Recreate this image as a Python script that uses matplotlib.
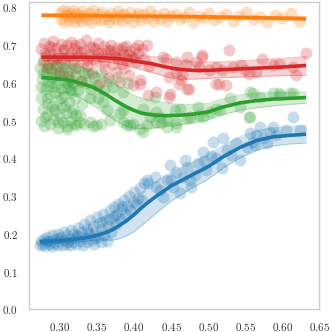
import matplotlib
matplotlib.use('Agg')
import matplotlib.pyplot as plt

# colours of the four series
BLUE, ORANGE, GREEN, RED = '#1f77b4', '#ff7f0e', '#2ca02c', '#d62728'

# ---- blue series ----
blue_pts = [
    (0.273, 0.170), (0.274, 0.180), (0.276, 0.174), (0.278, 0.186), (0.280, 0.168),
    (0.281, 0.178), (0.283, 0.192), (0.285, 0.172), (0.287, 0.182), (0.289, 0.169),
    (0.290, 0.196), (0.292, 0.176), (0.294, 0.186), (0.296, 0.170), (0.297, 0.201),
    (0.299, 0.180), (0.301, 0.192), (0.303, 0.171), (0.305, 0.184), (0.306, 0.206),
    (0.308, 0.174), (0.310, 0.196), (0.312, 0.186), (0.313, 0.170), (0.315, 0.210),
    (0.317, 0.179), (0.318, 0.200), (0.320, 0.189), (0.322, 0.172), (0.324, 0.216),
    (0.325, 0.194), (0.327, 0.181), (0.329, 0.205), (0.331, 0.170), (0.332, 0.226),
    (0.334, 0.190), (0.336, 0.212), (0.337, 0.178), (0.339, 0.200), (0.341, 0.236),
    (0.343, 0.184), (0.344, 0.220), (0.346, 0.172), (0.348, 0.208), (0.350, 0.245),
    (0.351, 0.192), (0.353, 0.228), (0.355, 0.178), (0.356, 0.214), (0.358, 0.252),
    (0.360, 0.198), (0.362, 0.236), (0.364, 0.182), (0.365, 0.220), (0.367, 0.262),
    (0.369, 0.206), (0.371, 0.244), (0.373, 0.270), (0.375, 0.226), (0.377, 0.254),
    (0.379, 0.280), (0.381, 0.240), (0.383, 0.265), (0.386, 0.290), (0.388, 0.252),
    (0.390, 0.275), (0.393, 0.300), (0.395, 0.262), (0.398, 0.285), (0.400, 0.310),
    (0.403, 0.278), (0.405, 0.296), (0.408, 0.322), (0.411, 0.290), (0.414, 0.335),
    (0.417, 0.343), (0.428, 0.352), (0.430, 0.325), (0.439, 0.299), (0.448, 0.383),
    (0.450, 0.343), (0.457, 0.365), (0.462, 0.308), (0.469, 0.396), (0.471, 0.378),
    (0.475, 0.343), (0.482, 0.356), (0.486, 0.387), (0.493, 0.418), (0.495, 0.392),
    (0.497, 0.369), (0.506, 0.444), (0.511, 0.400), (0.518, 0.374), (0.520, 0.453),
    (0.525, 0.422), (0.531, 0.409), (0.538, 0.440), (0.543, 0.396), (0.556, 0.466),
    (0.560, 0.444), (0.565, 0.462), (0.570, 0.484), (0.574, 0.453), (0.579, 0.440),
    (0.583, 0.471), (0.588, 0.484), (0.592, 0.462), (0.605, 0.475), (0.614, 0.510),
    (0.6235, 0.475), (0.419, 0.334), (0.435, 0.317), (0.444, 0.343), (0.453, 0.325),
    (0.466, 0.352), (0.504, 0.405), (0.477, 0.325), (0.552, 0.431), (0.563, 0.435),
    (0.284, 0.181), (0.298, 0.188), (0.311, 0.178), (0.323, 0.198), (0.338, 0.206),
    (0.347, 0.190), (0.357, 0.232), (0.366, 0.240), (0.374, 0.250), (0.384, 0.275),
]
blue_fit_x = [0.273, 0.29, 0.31, 0.33, 0.35, 0.36, 0.37, 0.38, 0.39, 0.40, 0.41,
              0.42, 0.43, 0.45, 0.475, 0.50, 0.52, 0.543, 0.565, 0.587, 0.61, 0.632]
blue_fit = [0.179, 0.181, 0.184, 0.188, 0.196, 0.202, 0.210, 0.222, 0.235, 0.251, 0.269,
            0.285, 0.300, 0.327, 0.353, 0.378, 0.404, 0.429, 0.447, 0.457, 0.461, 0.464]
blue_lo = [0.172, 0.174, 0.177, 0.180, 0.184, 0.184, 0.183, 0.187, 0.195, 0.206, 0.222,
           0.238, 0.255, 0.287, 0.318, 0.345, 0.374, 0.401, 0.421, 0.433, 0.438, 0.441]
blue_hi = [0.186, 0.188, 0.191, 0.196, 0.206, 0.214, 0.225, 0.242, 0.263, 0.286, 0.309,
           0.327, 0.340, 0.363, 0.386, 0.410, 0.434, 0.457, 0.473, 0.481, 0.484, 0.487]

# ---- orange series ----
orange_x = [0.300, 0.302, 0.304, 0.306, 0.308, 0.310, 0.312, 0.314, 0.316, 0.318,
            0.320, 0.322, 0.324, 0.326, 0.328, 0.330, 0.333, 0.336, 0.339, 0.342,
            0.345, 0.348, 0.351, 0.354, 0.357, 0.360, 0.363, 0.366, 0.369, 0.372,
            0.375, 0.378, 0.381, 0.384, 0.387, 0.390, 0.394, 0.398, 0.402, 0.406,
            0.410, 0.414, 0.418, 0.422, 0.426, 0.430, 0.435, 0.440, 0.445, 0.450,
            0.456, 0.462, 0.468, 0.474, 0.480, 0.487, 0.494, 0.501, 0.508, 0.516,
            0.524, 0.533, 0.542, 0.551, 0.560, 0.570, 0.580, 0.590, 0.600, 0.612,
            0.622]
orange_y = [0.785, 0.770, 0.792, 0.762, 0.779, 0.788, 0.766, 0.782, 0.774, 0.794,
            0.760, 0.786, 0.772, 0.780, 0.764, 0.790, 0.776, 0.768, 0.784, 0.761,
            0.792, 0.773, 0.781, 0.766, 0.788, 0.770, 0.778, 0.762, 0.786, 0.775,
            0.768, 0.791, 0.779, 0.764, 0.783, 0.771, 0.788, 0.760, 0.777, 0.785,
            0.767, 0.781, 0.773, 0.789, 0.763, 0.779, 0.770, 0.786, 0.765, 0.776,
            0.782, 0.768, 0.774, 0.787, 0.762, 0.778, 0.771, 0.784, 0.766, 0.775,
            0.781, 0.763, 0.777, 0.787, 0.769, 0.774, 0.760, 0.779, 0.771, 0.784,
            0.764]
orange_fit_x = [0.275, 0.35, 0.45, 0.55, 0.632]
orange_fit = [0.779, 0.778, 0.776, 0.773, 0.770]
orange_lo = [0.775, 0.774, 0.772, 0.769, 0.765]
orange_hi = [0.783, 0.782, 0.780, 0.777, 0.775]

# ---- red series ----
red_x = [0.275, 0.277, 0.279, 0.281, 0.283, 0.285, 0.287, 0.289, 0.291, 0.293,
         0.295, 0.297, 0.299, 0.301, 0.303, 0.305, 0.307, 0.309, 0.311, 0.313,
         0.315, 0.317, 0.319, 0.321, 0.323, 0.325, 0.327, 0.329, 0.331, 0.333,
         0.335, 0.337, 0.339, 0.341, 0.343, 0.345, 0.347, 0.349, 0.351, 0.353,
         0.355, 0.357, 0.359, 0.361, 0.363, 0.365, 0.367, 0.369, 0.371, 0.373,
         0.375, 0.377, 0.379, 0.381, 0.383, 0.385, 0.387, 0.389, 0.391, 0.393,
         0.395, 0.397, 0.399, 0.401, 0.403, 0.405, 0.408, 0.411, 0.414, 0.417,
         0.420,
         0.443, 0.456, 0.470, 0.483, 0.492, 0.488, 0.465, 0.456, 0.447, 0.461,
         0.474, 0.501, 0.510, 0.519, 0.528, 0.533, 0.544, 0.515, 0.524, 0.573,
         0.587, 0.596, 0.614, 0.618, 0.632, 0.555, 0.564, 0.549, 0.447, 0.463,
         0.406, 0.385, 0.439, 0.471, 0.491, 0.408, 0.430, 0.448, 0.471, 0.419,
         0.511,
         0.280, 0.288, 0.296, 0.304, 0.312, 0.320, 0.328, 0.336, 0.344, 0.352,
         0.360, 0.368, 0.376, 0.384, 0.392, 0.400]
red_y = [0.690, 0.655, 0.705, 0.672, 0.640, 0.698, 0.683, 0.662, 0.712, 0.648,
         0.691, 0.676, 0.630, 0.704, 0.667, 0.686, 0.652, 0.699, 0.618, 0.679,
         0.708, 0.660, 0.693, 0.640, 0.684, 0.671, 0.702, 0.605, 0.656, 0.688,
         0.714, 0.645, 0.675, 0.696, 0.625, 0.664, 0.690, 0.654, 0.706, 0.598,
         0.680, 0.668, 0.697, 0.636, 0.686, 0.612, 0.673, 0.700, 0.650, 0.683,
         0.628, 0.692, 0.662, 0.603, 0.688, 0.676, 0.640, 0.697, 0.660, 0.620,
         0.684, 0.670, 0.595, 0.692, 0.655, 0.680, 0.608, 0.690, 0.664, 0.700,
         0.645,
         0.664, 0.655, 0.651, 0.655, 0.668, 0.642, 0.620, 0.629, 0.616, 0.598,
         0.585, 0.633, 0.642, 0.633, 0.686, 0.642, 0.646, 0.598, 0.594, 0.664,
         0.646, 0.651, 0.642, 0.620, 0.679, 0.624, 0.629, 0.633, 0.563, 0.607,
         0.699, 0.695, 0.668, 0.668, 0.673, 0.598, 0.576, 0.570, 0.585, 0.567,
         0.598,
         0.680, 0.695, 0.665, 0.690, 0.672, 0.700, 0.682, 0.660, 0.694, 0.678,
         0.656, 0.688, 0.670, 0.650, 0.676, 0.665]
red_fit_x = [0.275, 0.30, 0.33, 0.355, 0.38, 0.40, 0.425, 0.445, 0.46, 0.48,
             0.50, 0.52, 0.555, 0.60, 0.632]
red_fit = [0.668, 0.668, 0.668, 0.667, 0.664, 0.658, 0.650, 0.641, 0.636, 0.633,
           0.633, 0.635, 0.638, 0.642, 0.646]
red_lo = [0.658, 0.659, 0.659, 0.657, 0.650, 0.640, 0.627, 0.615, 0.610, 0.610,
          0.612, 0.614, 0.616, 0.619, 0.620]
red_hi = [0.678, 0.677, 0.677, 0.677, 0.677, 0.674, 0.670, 0.665, 0.660, 0.656,
          0.655, 0.656, 0.660, 0.665, 0.670]

# ---- green series ----
green_pts = [
    (0.273, 0.640), (0.274, 0.560), (0.275, 0.500), (0.276, 0.610), (0.277, 0.530),
    (0.278, 0.660), (0.279, 0.485), (0.280, 0.585), (0.281, 0.625), (0.282, 0.545),
    (0.283, 0.515), (0.284, 0.650), (0.285, 0.600), (0.286, 0.570), (0.287, 0.490),
    (0.288, 0.635), (0.289, 0.540), (0.290, 0.615), (0.291, 0.505), (0.292, 0.660),
    (0.293, 0.575), (0.294, 0.525), (0.295, 0.595), (0.296, 0.645), (0.297, 0.480),
    (0.298, 0.555), (0.299, 0.620), (0.300, 0.510), (0.301, 0.585), (0.302, 0.655),
    (0.303, 0.535), (0.304, 0.495), (0.305, 0.605), (0.306, 0.565), (0.307, 0.640),
    (0.308, 0.520), (0.309, 0.590), (0.310, 0.485), (0.311, 0.630), (0.312, 0.550),
    (0.313, 0.610), (0.314, 0.500), (0.315, 0.575), (0.316, 0.650), (0.317, 0.530),
    (0.318, 0.595), (0.319, 0.490), (0.320, 0.620), (0.321, 0.560), (0.322, 0.515),
    (0.324, 0.640), (0.325, 0.580), (0.326, 0.495), (0.328, 0.605), (0.330, 0.545),
    (0.332, 0.625),
    (0.335, 0.600), (0.338, 0.630), (0.342, 0.585), (0.346, 0.615), (0.350, 0.595),
    (0.355, 0.625), (0.360, 0.580), (0.366, 0.605), (0.372, 0.590), (0.378, 0.615),
    (0.385, 0.575), (0.392, 0.600), (0.340, 0.560), (0.358, 0.550),
    (0.327, 0.514), (0.322, 0.488), (0.340, 0.497), (0.352, 0.559), (0.349, 0.488),
    (0.367, 0.501), (0.381, 0.519), (0.385, 0.497), (0.394, 0.488), (0.408, 0.479),
    (0.417, 0.488), (0.430, 0.497), (0.444, 0.484), (0.457, 0.493), (0.363, 0.528),
    (0.316, 0.519), (0.309, 0.479), (0.333, 0.490), (0.345, 0.485), (0.356, 0.492),
    (0.385, 0.528), (0.399, 0.492), (0.412, 0.532), (0.435, 0.510), (0.455, 0.528),
    (0.462, 0.532), (0.471, 0.506), (0.487, 0.514), (0.502, 0.523), (0.511, 0.532),
    (0.428, 0.563), (0.390, 0.488), (0.421, 0.510), (0.430, 0.523), (0.437, 0.493),
    (0.444, 0.501), (0.457, 0.484), (0.475, 0.510), (0.486, 0.537), (0.493, 0.510),
    (0.516, 0.528), (0.529, 0.559), (0.543, 0.537), (0.556, 0.510), (0.561, 0.572),
    (0.570, 0.563), (0.588, 0.572), (0.597, 0.567), (0.610, 0.572), (0.412, 0.471),
    (0.557, 0.576), (0.596, 0.572), (0.614, 0.572), (0.555, 0.510),
    (0.274, 0.590), (0.277, 0.625), (0.280, 0.510), (0.283, 0.560), (0.286, 0.640),
    (0.289, 0.600), (0.292, 0.530), (0.295, 0.620), (0.298, 0.495), (0.301, 0.560),
    (0.304, 0.625), (0.307, 0.540), (0.310, 0.600), (0.313, 0.580), (0.316, 0.600),
]
green_fit_x = [0.275, 0.29, 0.31, 0.33, 0.345, 0.36, 0.375, 0.39, 0.40, 0.41, 0.425,
               0.44, 0.46, 0.48, 0.50, 0.52, 0.543, 0.565, 0.587, 0.61, 0.632]
green_fit = [0.614, 0.612, 0.608, 0.598, 0.588, 0.572, 0.553, 0.536, 0.527, 0.520, 0.515,
             0.513, 0.514, 0.517, 0.523, 0.536, 0.547, 0.553, 0.557, 0.559, 0.561]
green_lo = [0.578, 0.576, 0.573, 0.558, 0.540, 0.520, 0.500, 0.484, 0.480, 0.479, 0.480,
            0.484, 0.488, 0.494, 0.502, 0.516, 0.527, 0.534, 0.539, 0.543, 0.546]
green_hi = [0.650, 0.650, 0.648, 0.641, 0.632, 0.617, 0.597, 0.577, 0.567, 0.560, 0.553,
            0.548, 0.543, 0.543, 0.546, 0.558, 0.568, 0.573, 0.574, 0.575, 0.576]

plt.rcParams['font.family'] = 'serif'
plt.rcParams['font.serif'] = ['cmr10']
plt.rcParams['axes.formatter.use_mathtext'] = True

fig = plt.figure(figsize=(3.32, 3.32), dpi=100)
ax = fig.add_axes([0.088, 0.068, 0.874, 0.927])

scatter_kw = dict(s=75, alpha=0.25, edgecolors='white', linewidths=0.3, zorder=1)
ax.scatter([p[0] for p in blue_pts], [p[1] for p in blue_pts], color=BLUE, **scatter_kw)
ax.scatter(orange_x, orange_y, color=ORANGE, **scatter_kw)
ax.scatter([p[0] for p in green_pts], [p[1] for p in green_pts], color=GREEN, **scatter_kw)
ax.scatter(red_x, red_y, color=RED, **scatter_kw)

# fitted curves with their bands
fits = [
    (blue_fit_x, blue_fit, blue_lo, blue_hi, BLUE),
    (orange_fit_x, orange_fit, orange_lo, orange_hi, ORANGE),
    (green_fit_x, green_fit, green_lo, green_hi, GREEN),
    (red_fit_x, red_fit, red_lo, red_hi, RED),
]
for fx, fy, lo, hi, c in fits:
    ax.fill_between(fx, lo, hi, color=c, alpha=0.2, linewidth=0, zorder=2)
    ax.plot(fx, lo, color=c, alpha=0.25, lw=0.8, zorder=2)
    ax.plot(fx, hi, color=c, alpha=0.25, lw=0.8, zorder=2)
for fx, fy, lo, hi, c in fits:
    ax.plot(fx, fy, color=c, lw=2.6, solid_capstyle='butt', zorder=3)

ax.set_xlim(0.2586, 0.6495)
ax.set_ylim(0.0, 0.815)
ax.set_xticks([0.30, 0.35, 0.40, 0.45, 0.50, 0.55, 0.60, 0.65])
ax.set_yticks([0.0, 0.1, 0.2, 0.3, 0.4, 0.5, 0.6, 0.7, 0.8])
ax.tick_params(length=0, pad=8, labelsize=8, labelcolor='#333333')
for sp in ax.spines.values():
    sp.set_color('#cccccc')
    sp.set_linewidth(1.0)

fig.savefig('out.png', dpi=100)
